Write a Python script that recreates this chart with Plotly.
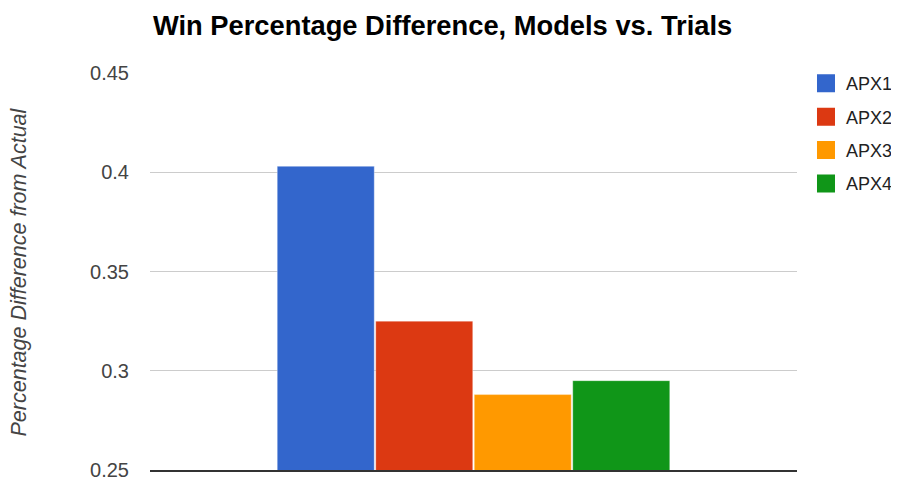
import plotly.graph_objects as go

categories = [""]
series_names = ["APX1", "APX2", "APX3", "APX4"]
series_values = [[0.403], [0.325], [0.288], [0.295]]
colors = ["#3366cc", "#dc3912", "#ff9900", "#109618"]
y_ticks = [0.25, 0.3, 0.35, 0.4, 0.45]
y_tick_labels = ["0.25", "0.3", "0.35", "0.4", "0.45"]

fig = go.Figure()
for name, vals, col in zip(series_names, series_values, colors):
    fig.add_trace(go.Bar(
        x=categories, y=vals, name=name, showlegend=False,
        marker=dict(color=col, line=dict(color="rgba(255,255,255,0.35)", width=1)),
    ))
for i, (name, col) in enumerate(zip(series_names, colors)):
    fig.add_trace(go.Scatter(
        x=[None], y=[None], name=name, mode="markers", legendgroup=f"g{i}",
        marker=dict(symbol="square", size=16, color=col, line=dict(color=col, width=2)),
    ))

fig.update_layout(
    width=891, height=470,
    margin=dict(l=142, r=102, t=65, b=8, autoexpand=False),
    paper_bgcolor="white", plot_bgcolor="white",
    font=dict(family="Arial, Liberation Sans, sans-serif", color="#444"),
    title=dict(text="<b>Win Percentage Difference, Models vs. Trials</b>",
               x=0.0046, xref="paper", xanchor="left", y=0.963, yanchor="middle",
               font=dict(size=27.3, color="#000")),
    barmode="group", bargap=0.391, bargroupgap=0.015,
    xaxis=dict(showticklabels=False, showgrid=False, showline=True,
               linecolor="#333", linewidth=1.5, ticks="", fixedrange=True),
    yaxis=dict(range=[0.25, 0.45], tickvals=y_ticks, ticktext=y_tick_labels,
               showgrid=True, gridcolor="#cccccc", gridwidth=1, zeroline=False,
               showline=False, ticks="", ticklabelstandoff=20,
               ticklabeloverflow="allow",
               tickfont=dict(size=20, color="#444")),
    legend=dict(x=1.0139, xanchor="left", y=1.02, yanchor="top",
                font=dict(size=18, color="#222"), tracegroupgap=7,
                bgcolor="rgba(0,0,0,0)", borderwidth=0),
    annotations=[dict(text="<i>Percentage Difference from Actual</i>",
                      x=-0.2025, xref="paper", y=0.5, yref="paper",
                      xanchor="center", yanchor="middle", textangle=-90,
                      showarrow=False, font=dict(size=21.5, color="#444"))],
)

fig.write_html("out.html")
